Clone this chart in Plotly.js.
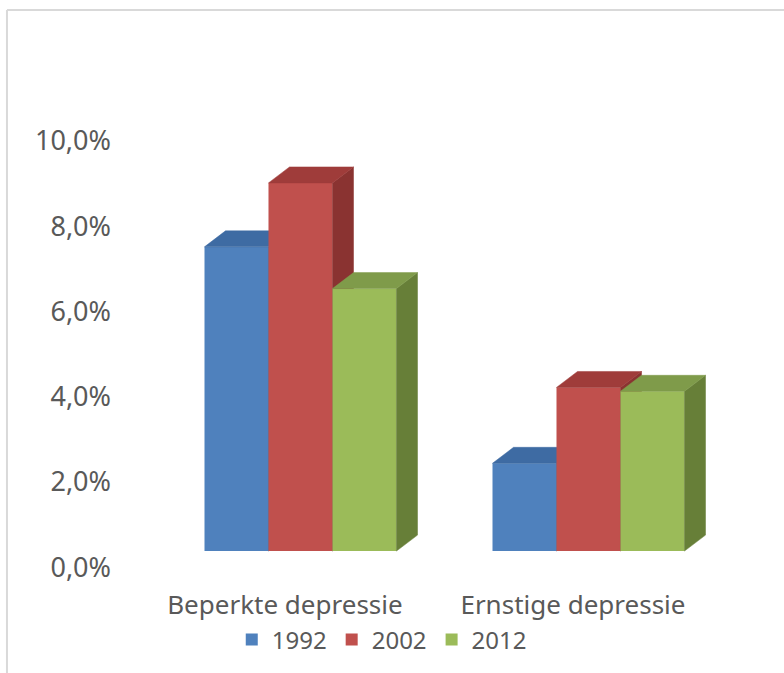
<!DOCTYPE html>
<html>
<head>
<meta charset="utf-8">
<script src="https://cdn.plot.ly/plotly-3.0.1.min.js"></script>
<style>html,body{margin:0;padding:0;background:#fff;}#chart{width:784px;height:673px;}</style>
</head>
<body>
<div id="chart"></div>
<script>
// ---- data ----
var categories = ["Beperkte depressie", "Ernstige depressie"];
var seriesNames = ["1992", "2002", "2012"];
var values1992 = [0.0714, 0.0206];
var values2002 = [0.0864, 0.0384];
var values2012 = [0.0616, 0.0375];
var yTicks = [0, 0.02, 0.04, 0.06, 0.08, 0.10];

// ---- styles ----
var frontColors = ["#4f81bd", "#c0504d", "#9bbb59"];
var topColors   = ["#3e6ba3", "#9f3c3a", "#7f9b4a"];
var sideColors  = ["#375f90", "#8a3331", "#677f38"];
var seriesValues = [values1992, values2002, values2012];
var axisIds = ["y", "y2", "y3"];

var barW = 0.2222;          // width of one bar in category units
var groupStart = -0.3333;   // left edge of group relative to category centre
var dx = 0.073;             // depth offset in x (category units)
var dy = 0.00375;           // depth offset in y (value units)
var labelShift = -0.054;    // category label offset
var yRange = [-0.0089, 0.11055];

var font = "Noto Sans, sans-serif";
var txtColor = "#595959";

var traces = [];
var xIdx = categories.map(function (c, j) { return j; });

seriesValues.forEach(function (vals, i) {
  var yax = axisIds[i];
  var off = groupStart + i * barW;
  // front faces
  traces.push({
    type: "bar", x: xIdx, y: vals, width: barW, offset: off,
    xaxis: "x", yaxis: yax, name: seriesNames[i],
    marker: {color: frontColors[i], line: {width: 0}},
    showlegend: true, hoverinfo: "y"
  });
  // side + top faces
  var sx = [], sy = [];
  var tx = [], ty = [];
  vals.forEach(function (v, j) {
    var xl = j + off, xr = xl + barW;
    sx.push(xr, xr, xr + dx, xr + dx, xr, null);
    sy.push(0, v, v + dy, dy, 0, null);
    tx.push(xl, xr, xr + dx, xl + dx, xl, null);
    ty.push(v, v, v + dy, v + dy, v, null);
  });
  traces.push({
    type: "scatter", mode: "lines", x: sx, y: sy, fill: "toself",
    fillcolor: sideColors[i], line: {width: 0.5, color: sideColors[i]},
    xaxis: "x", yaxis: yax, showlegend: false, hoverinfo: "skip"
  });
  traces.push({
    type: "scatter", mode: "lines", x: tx, y: ty, fill: "toself",
    fillcolor: topColors[i], line: {width: 0.5, color: topColors[i]},
    xaxis: "x", yaxis: yax, showlegend: false, hoverinfo: "skip"
  });
});

var hiddenY = function () {
  return {range: yRange, overlaying: "y", visible: false, fixedrange: true};
};

var layout = {
  width: 784, height: 673,
  margin: {l: 120, r: 24, t: 80, b: 83},
  paper_bgcolor: "#ffffff", plot_bgcolor: "rgba(0,0,0,0)",
  separators: ",.",
  font: {family: font, color: txtColor, size: 24},
  xaxis: {
    range: [-0.6267, 1.5955], showgrid: false, zeroline: false, showline: false,
    tickmode: "array",
    tickvals: xIdx.map(function (j) { return j + labelShift; }),
    ticktext: categories, ticks: "", tickfont: {size: 26, color: txtColor},
    ticklabelstandoff: -2,
    fixedrange: true
  },
  yaxis: {
    range: yRange, tickmode: "array", tickvals: yTicks, tickformat: ".1%",
    showgrid: false, zeroline: false, showline: false, ticks: "",
    ticklabelstandoff: 8, ticklabelshift: 16,
    tickfont: {size: 27, color: txtColor}, fixedrange: true
  },
  yaxis2: hiddenY(), yaxis3: hiddenY(),
  showlegend: true,
  legend: {
    orientation: "h", x: 0.409, xanchor: "center", y: -0.098, yanchor: "middle",
    bgcolor: "rgba(0,0,0,0)",
    font: {size: 24, color: txtColor}, traceorder: "normal", itemclick: false
  },
  shapes: [
    {type: "line", xref: "paper", yref: "paper", x0: -0.1766, x1: 1.04, y0: 1.1373, y1: 1.1373,
     line: {color: "#d9d9d9", width: 2}},
    {type: "line", xref: "paper", yref: "paper", x0: -0.1766, x1: -0.1766, y0: 1.1373, y1: -0.17,
     line: {color: "#d9d9d9", width: 2}}
  ]
};

Plotly.newPlot("chart", traces, layout, {displayModeBar: false, staticPlot: true});
</script>
</body>
</html>
